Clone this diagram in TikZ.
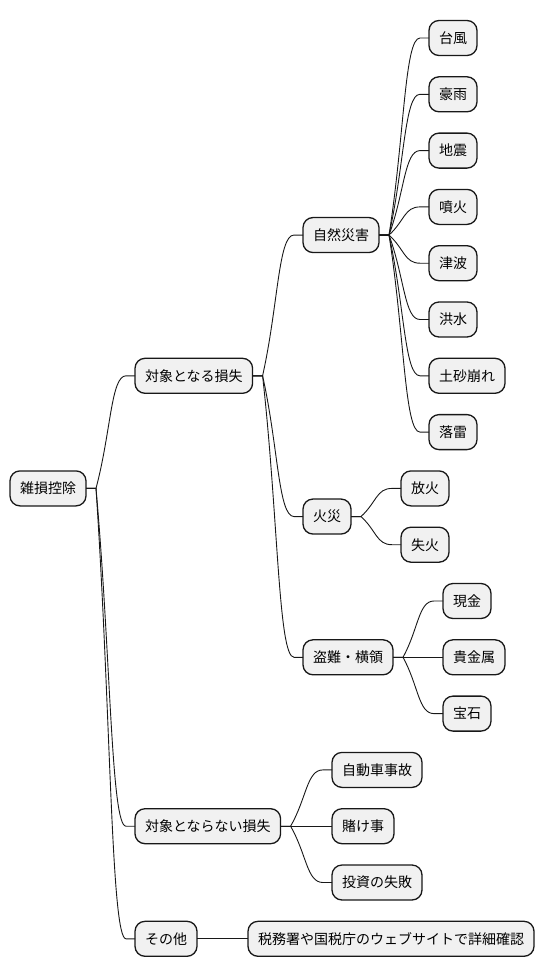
\documentclass[tikz,border=0pt]{standalone}
\usepackage{fontspec}
\newfontfamily\cjk{Noto Sans CJK JP}
\usetikzlibrary{calc}
\definecolor{boxfill}{HTML}{F1F1F1}
\definecolor{ink}{HTML}{181818}
\tikzset{
  box/.style={draw=ink, fill=boxfill, line width=1.3pt, rounded corners=10pt,
    anchor=west, inner xsep=10pt, inner ysep=0pt, minimum height=35pt,
    outer sep=0pt, font=\cjk\fontsize{14}{16}\selectfont, text=black},
  link/.style={draw=ink, line width=0.9pt},
}
\newcommand\conn[2]{%
  \draw[link] let \p1=(#1.east), \p2=(#2.west),
    \p3=({\x1+10pt},\y1), \p4=({\x2-9pt},\y2) in
    (\p1) -- (\p3) .. controls ({(\x3+\x4)/2},{(\y3+\y4)/2}) and ({(\x3+\x4)/2},\y4) .. (\p4) -- (\p2);}
\begin{document}
\begin{tikzpicture}[x=1pt,y=-1pt]
\useasboundingbox (0,0) rectangle (544,978);
% root
\node[box] (root) at (10,488.4) {雑損控除};
% level 1
\node[box] (a) at (135,375.8) {対象となる損失};
\node[box] (b) at (135,826.2) {対象とならない損失};
\node[box] (c) at (135,938.8) {その他};
% level 2
\node[box] (a1) at (303,235.05) {自然災害};
\node[box] (a2) at (303,516.55) {火災};
\node[box] (a3) at (303,657.3) {盗難・横領};
\node[box] (b1) at (332,769.9) {自動車事故};
\node[box] (b2) at (332,826.2) {賭け事};
\node[box] (b3) at (332,882.5) {投資の失敗};
\node[box] (c1) at (248,938.8) {税務署や国税庁のウェブサイトで詳細確認};
% level 3
\node[box] (n1) at (429,38) {台風};
\node[box] (n2) at (429,94.3) {豪雨};
\node[box] (n3) at (429,150.6) {地震};
\node[box] (n4) at (429,206.9) {噴火};
\node[box] (n5) at (429,263.2) {津波};
\node[box] (n6) at (429,319.5) {洪水};
\node[box] (n7) at (429,375.8) {土砂崩れ};
\node[box] (n8) at (429,432.1) {落雷};
\node[box] (f1) at (401,488.4) {放火};
\node[box] (f2) at (401,544.7) {失火};
\node[box] (t1) at (443,601) {現金};
\node[box] (t2) at (443,657.3) {貴金属};
\node[box] (t3) at (443,713.6) {宝石};
% connectors
\conn{root}{a}\conn{root}{b}\conn{root}{c}
\conn{a}{a1}\conn{a}{a2}\conn{a}{a3}
\conn{b}{b1}\conn{b}{b2}\conn{b}{b3}
\conn{c}{c1}
\conn{a1}{n1}\conn{a1}{n2}\conn{a1}{n3}\conn{a1}{n4}
\conn{a1}{n5}\conn{a1}{n6}\conn{a1}{n7}\conn{a1}{n8}
\conn{a2}{f1}\conn{a2}{f2}
\conn{a3}{t1}\conn{a3}{t2}\conn{a3}{t3}
\end{tikzpicture}
\end{document}
